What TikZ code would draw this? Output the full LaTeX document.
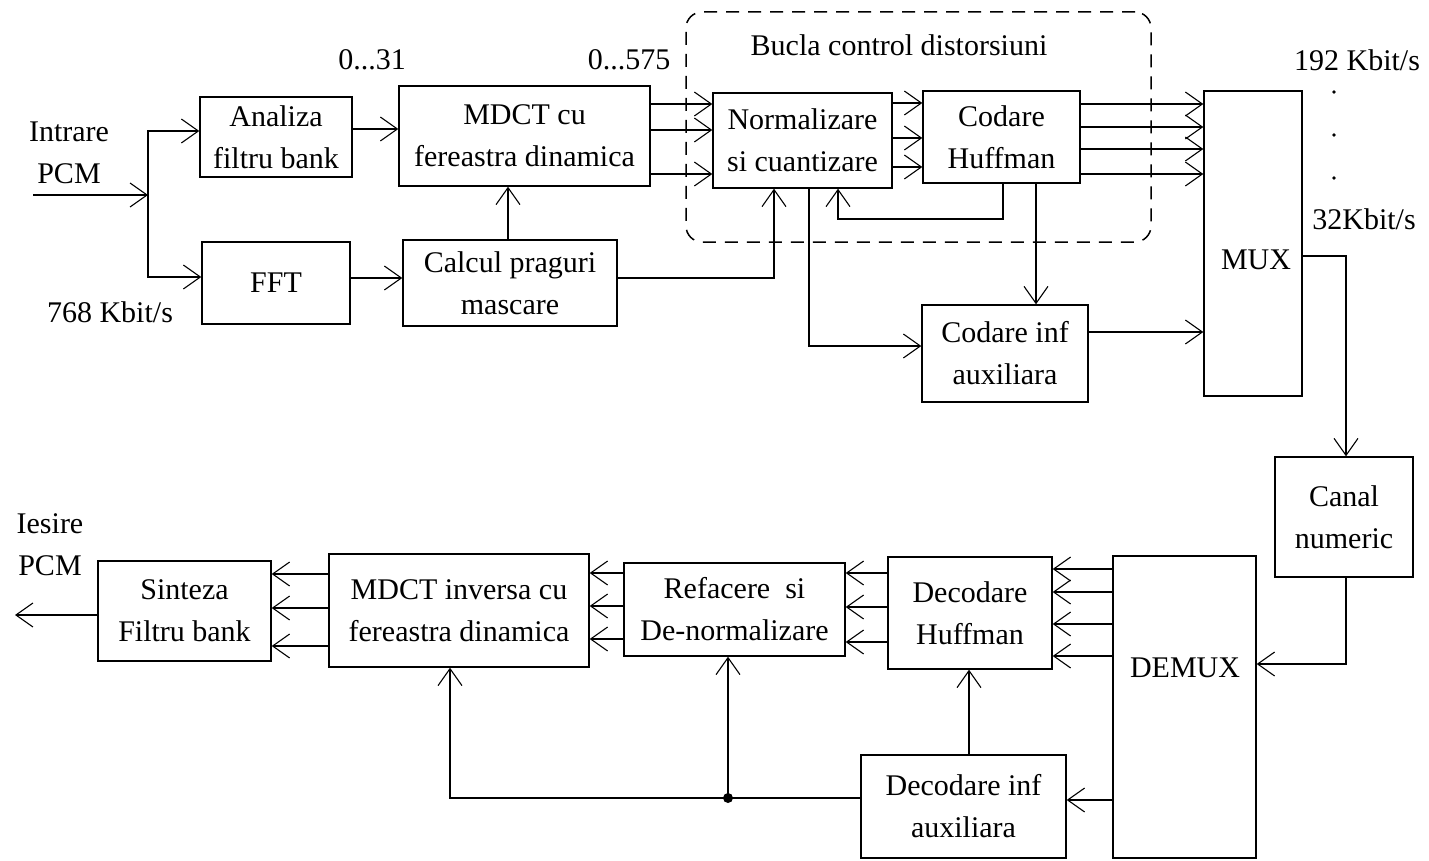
\documentclass[tikz,border=0pt]{standalone}
\usepackage{fontspec}
\setmainfont{Liberation Serif}
\usetikzlibrary{arrows.meta}
\begin{document}
\begin{tikzpicture}[x=1pt,y=-1pt,
  line width=1.4pt,
  txt/.style={font=\fontsize{30}{42}\selectfont, align=center, inner sep=0pt},
  blk/.style={draw, txt, rectangle},
  arr/.style={-{Straight Barb[length=17pt,width=24pt,line width=1.1pt]}},
  loopbox/.style={draw, rectangle, rounded corners=16pt, dash pattern=on 13pt off 9pt, line width=1.5pt},
]
\useasboundingbox (0,0) rectangle (1429,861);

% dashed loop
\node[loopbox, minimum width=465pt, minimum height=230pt] (loop) at (918.5,127) {};

% boxes (encoder)
\node[blk, minimum width=152pt, minimum height=80pt]  (ana)    at (276,137)    {Analiza\\filtru bank};
\node[blk, minimum width=148pt, minimum height=82pt]  (fft)    at (276,283)    {FFT};
\node[blk, minimum width=251pt, minimum height=100pt] (mdct)   at (524.5,136)  {MDCT cu\\fereastra dinamica};
\node[blk, minimum width=214pt, minimum height=86pt]  (calc)   at (510,283)    {Calcul praguri\\mascare};
\node[blk, minimum width=179pt, minimum height=95pt]  (norm)   at (802.5,140.5){Normalizare\\si cuantizare};
\node[blk, minimum width=157pt, minimum height=92pt]  (cod)    at (1001.5,137) {Codare\\Huffman};
\node[blk, minimum width=98pt,  minimum height=305pt] (mux)    at (1253,243.5) {};
\node[txt] (muxlbl) at (1256,260) {MUX};
\node[blk, minimum width=166pt, minimum height=97pt]  (codinf) at (1005,353.5) {Codare inf\\auxiliara};
\node[blk, minimum width=138pt, minimum height=120pt] (canal)  at (1344,517)   {Canal\\numeric};

% boxes (decoder)
\node[blk, minimum width=143pt, minimum height=302pt] (demux)  at (1184.5,707) {};
\node[txt] (demuxlbl) at (1185,668) {DEMUX};
\node[blk, minimum width=164pt, minimum height=112pt] (dhuf)   at (970,613)    {Decodare\\Huffman};
\node[blk, minimum width=221pt, minimum height=93pt]  (ref)    at (734.5,609.5){Refacere\ \ si\\De-normalizare};
\node[blk, minimum width=260pt, minimum height=113pt] (mdinv)  at (459,610.5)  {MDCT inversa cu\\fereastra dinamica};
\node[blk, minimum width=173pt, minimum height=100pt] (sint)   at (184.5,611)  {Sinteza\\Filtru bank};
\node[blk, minimum width=205pt, minimum height=103pt] (dinf)   at (963.5,806.5){Decodare inf\\auxiliara};

% labels
\node[txt] (intr)  at (69,153)   {Intrare\\PCM};
\node[txt] (r768)  at (110,312)  {768 Kbit/s};
\node[txt] (l031)  at (372,60)   {0...31};
\node[txt] (l0575) at (629,60)   {0...575};
\node[txt] (bucla) at (899,45)   {Bucla control distorsiuni};
\node[txt] (r192)  at (1357,60)  {192 Kbit/s};
\node[txt] (r32)   at (1364,219) {32Kbit/s};
\node[txt] (iesire) at (50,545)  {Iesire\\PCM};
\foreach \yy in {92,135,178} \fill (1334,\yy) circle[radius=1.8pt];

% encoder connectors
\coordinate (in) at (33,195);
\coordinate (jn) at (148,195);
\draw[arr] (in) -- (jn);
\draw[arr] (jn) |- (ana.west |- 0,131);
\draw[arr] (jn) |- (fft.west |- 0,277);
\draw[arr] (ana.east |- 0,129) -- (mdct.west |- 0,129);
\draw[arr] (fft.east |- 0,278) -- (calc.west |- 0,278);
\draw[arr] (calc.north -| 508,0) -- (mdct.south -| 508,0);
\foreach \yy in {104,130,174} \draw[arr] (mdct.east |- 0,\yy) -- (norm.west |- 0,\yy);
\draw[arr] (calc.east |- 0,278) -| (norm.south -| 774,0);
\foreach \yy in {103,138,167} \draw[arr] (norm.east |- 0,\yy) -- (cod.west |- 0,\yy);
\foreach \yy in {104,127,149,174} \draw[arr] (cod.east |- 0,\yy) -- (mux.west |- 0,\yy);
\draw[arr] (cod.south -| 1003,0) -- (1003,219) -| (norm.south -| 838,0);
\draw[arr] (norm.south -| 809,0) |- (codinf.west |- 0,346);
\draw[arr] (cod.south -| 1036,0) -- (codinf.north -| 1036,0);
\draw[arr] (codinf.east |- 0,332) -- (mux.west |- 0,332);
\draw[arr] (mux.east |- 0,256) -| (canal.north -| 1346,0);

% decoder connectors
\draw[arr] (canal.south -| 1346,0) |- (demux.east |- 0,664);
\foreach \yy in {569,592,624,656} \draw[arr] (demux.west |- 0,\yy) -- (dhuf.east |- 0,\yy);
\foreach \yy in {573,607,642} \draw[arr] (dhuf.west |- 0,\yy) -- (ref.east |- 0,\yy);
\foreach \yy in {573,606,639} \draw[arr] (ref.west |- 0,\yy) -- (mdinv.east |- 0,\yy);
\foreach \yy in {574,608,646} \draw[arr] (mdinv.west |- 0,\yy) -- (sint.east |- 0,\yy);
\coordinate (out) at (15,615);
\draw[arr] (sint.west |- 0,615) -- (out);
\draw[arr] (demux.west |- 0,800) -- (dinf.east |- 0,800);
\draw[arr] (dinf.north -| 969,0) -- (dhuf.south -| 969,0);
\draw[arr] (dinf.west |- 0,798) -| (mdinv.south -| 450,0);
\coordinate (jd) at (728,798);
\fill (jd) circle[radius=5pt];
\draw[arr] (jd) -- (ref.south -| 728,0);
\end{tikzpicture}
\end{document}
